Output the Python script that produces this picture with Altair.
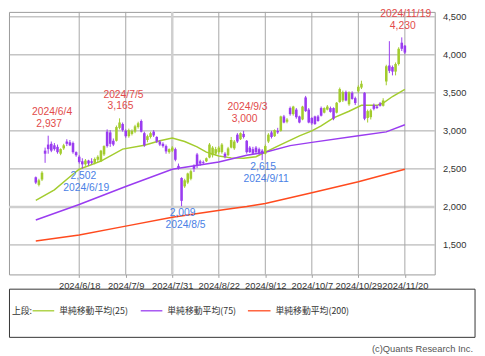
import altair as alt
import pandas as pd

# ---------------- data ----------------
dates = ["2024/5/29","2024/5/30","2024/5/31","2024/6/3","2024/6/4","2024/6/5","2024/6/6","2024/6/7","2024/6/10","2024/6/11",
         "2024/6/12","2024/6/13","2024/6/14","2024/6/17","2024/6/18","2024/6/19","2024/6/20","2024/6/21","2024/6/24","2024/6/25",
         "2024/6/26","2024/6/27","2024/6/28","2024/7/1","2024/7/2","2024/7/3","2024/7/4","2024/7/5","2024/7/8","2024/7/9",
         "2024/7/10","2024/7/11","2024/7/12","2024/7/16","2024/7/17","2024/7/18","2024/7/19","2024/7/22","2024/7/23","2024/7/24",
         "2024/7/25","2024/7/26","2024/7/29","2024/7/30","2024/7/31","2024/8/1","2024/8/2","2024/8/5","2024/8/6","2024/8/7",
         "2024/8/8","2024/8/9","2024/8/13","2024/8/14","2024/8/15","2024/8/16","2024/8/19","2024/8/20","2024/8/21","2024/8/22",
         "2024/8/23","2024/8/26","2024/8/27","2024/8/28","2024/8/29","2024/8/30","2024/9/2","2024/9/3","2024/9/4","2024/9/5",
         "2024/9/6","2024/9/9","2024/9/10","2024/9/11","2024/9/12","2024/9/13","2024/9/17","2024/9/18","2024/9/19","2024/9/20",
         "2024/9/24","2024/9/25","2024/9/26","2024/9/27","2024/9/30","2024/10/1","2024/10/2","2024/10/3","2024/10/4","2024/10/7",
         "2024/10/8","2024/10/9","2024/10/10","2024/10/11","2024/10/15","2024/10/16","2024/10/17","2024/10/18","2024/10/21","2024/10/22",
         "2024/10/23","2024/10/24","2024/10/25","2024/10/28","2024/10/29","2024/10/30","2024/10/31","2024/11/1","2024/11/5","2024/11/6",
         "2024/11/7","2024/11/8","2024/11/11","2024/11/12","2024/11/13","2024/11/14","2024/11/15","2024/11/18","2024/11/19","2024/11/20"]

opens  = [2390,2290,2360,2740,2820,2830,2810,2790,2700,2770, 2860,2850,2840,2720,2660,2600,2560,2610,2600,2580,
          2620,2600,2690,2990,2980,2870,2870,3040,3090,3000, 2930,2960,2990,3050,3130,2970,2880,2920,2990,2920,
          2860,2830,2800,2720,2740,2760,2540,2380,2270,2320, 2370,2540,2690,2600,2590,2600,2650,2680,2700,2720,
          2720,2700,2680,2780,2770,2950,2890,2960,2870,2780, 2760,2780,2760,2740,2700,2860,2980,2930,3000,3000,
          3190,3120,3300,3220,3280,3190,3150,3440,3280,3170, 3190,3190,3300,3240,3280,3300,3300,3240,3380,3400,
          3510,3350,3500,3430,3520,3570,3500,3170,3180,3340, 3320,3360,3330,3650,3860,3840,3780,3880,4160,4120]
highs  = [2400,2370,2470,2780,2937,2860,2840,2820,2770,2830, 2890,2880,2860,2730,2680,2640,2630,2620,2640,2650,
          2680,2750,2810,3020,3010,2900,3070,3165,3110,3020, 3030,3020,3080,3120,3150,2990,2950,2990,3010,2930,
          2880,2850,2820,2770,2800,2780,2570,2390,2370,2450, 2490,2560,2710,2620,2610,2650,2840,2800,2790,2800,
          2840,2720,2790,2920,2880,2970,2980,3000,2880,2800, 2790,2800,2780,2760,2820,2970,3000,3020,3040,3200,
          3210,3170,3320,3330,3300,3200,3330,3460,3300,3180, 3200,3210,3320,3310,3340,3320,3310,3380,3570,3530,
          3530,3520,3520,3450,3600,3660,3510,3280,3290,3360, 3340,3380,3430,3870,4180,3860,3900,4100,4230,4130]
lows   = [2300,2270,2340,2580,2700,2720,2740,2700,2680,2750, 2800,2800,2700,2660,2570,2502,2540,2540,2560,2560,
          2590,2590,2670,2780,2790,2800,2860,3020,2990,2910, 2910,2940,2970,3030,2980,2790,2850,2900,2920,2840,
          2800,2780,2700,2700,2720,2600,2490,2009,2250,2300, 2350,2460,2510,2540,2560,2590,2640,2650,2680,2700,
          2700,2640,2670,2770,2750,2840,2880,2900,2700,2710, 2690,2700,2680,2615,2690,2840,2900,2920,2960,2990,
          3100,3100,3200,3200,3160,3100,3140,3250,3100,3080, 3080,3120,3190,3230,3270,3240,3140,3230,3370,3380,
          3390,3330,3410,3340,3500,3550,3140,3110,3150,3270, 3290,3320,3320,3600,3760,3730,3730,3860,4050,4010]
closes = [2320,2350,2450,2700,2760,2740,2760,2720,2760,2810, 2830,2810,2720,2680,2590,2560,2610,2570,2580,2630,
          2660,2740,2800,2800,2830,2820,3050,3110,3010,2930, 3010,3000,3060,3100,2990,2810,2930,2970,2940,2860,
          2820,2800,2730,2760,2780,2620,2510,2080,2350,2440, 2470,2500,2540,2570,2580,2640,2820,2780,2760,2780,
          2820,2660,2770,2880,2860,2860,2970,2920,2720,2720, 2700,2720,2700,2700,2800,2950,2920,3010,2980,3190,
          3110,3150,3220,3320,3180,3110,3320,3260,3110,3100, 3090,3130,3200,3300,3320,3250,3160,3370,3550,3510,
          3400,3510,3420,3366,3580,3620,3160,3260,3270,3290, 3300,3330,3400,3850,3790,3780,3880,4080,4080,4030]

# moving averages (trading-day position, value)
ma25_pos  = [0, 6, 11, 14, 21, 28, 35, 40, 44, 48, 52, 55, 59, 63, 67, 71, 75, 78, 85, 89, 92, 96, 101, 105, 110, 112, 115, 119]
ma25_val  = [2087, 2225, 2397, 2496, 2603, 2760, 2810, 2870, 2905, 2860, 2790, 2720, 2670, 2645, 2640, 2660, 2740, 2800,
             2935, 3000, 3065, 3172, 3258, 3336, 3336, 3366, 3452, 3547]
ma75_pos  = [0, 14, 29, 44, 59, 68, 74, 82, 89, 104, 113, 119]
ma75_val  = [1828, 2031, 2268, 2496, 2590, 2680, 2720, 2806, 2849, 2935, 2987, 3080]
ma200_pos = [0, 14, 29, 44, 61, 68, 74, 89, 104, 119]
ma200_val = [1553, 1630, 1747, 1863, 1966, 2005, 2044, 2186, 2332, 2496]

tick_dates = ["2024/6/18", "2024/7/9", "2024/7/31", "2024/8/22", "2024/9/12", "2024/10/7", "2024/10/29", "2024/11/20"]
price_ticks = [1500, 2000, 2500, 3000, 3500, 4000, 4500]

hi_dates = ["2024/6/4", "2024/7/5", "2024/9/3", "2024/11/19"]
hi_vals  = [2937, 3165, 3000, 4230]
lo_dates = ["2024/6/19", "2024/8/5", "2024/9/11"]
lo_vals  = [2502, 2009, 2615]

legend_names  = ["単純移動平均(25)", "単純移動平均(75)", "単純移動平均(200)"]
legend_colors = ["#a3cc2e", "#9a3cf0", "#ff4a1e"]

# ---------------- tables ----------------
candles = pd.DataFrame({"pos": range(len(dates)), "date": dates,
                        "open": opens, "high": highs, "low": lows, "close": closes})
candles["dir"] = ["up" if c >= o else "down" for o, c in zip(opens, closes)]

tick_pos = [dates.index(d) for d in tick_dates]
label_expr = " : ".join(f"datum.value == {p} ? '{d}'" for p, d in zip(tick_pos, tick_dates)) + " : ''"

ma = pd.concat([
    pd.DataFrame({"pos": ma25_pos, "v": ma25_val, "s": legend_names[0]}),
    pd.DataFrame({"pos": ma75_pos, "v": ma75_val, "s": legend_names[1]}),
    pd.DataFrame({"pos": ma200_pos, "v": ma200_val, "s": legend_names[2]}),
])

hi = pd.DataFrame({"pos": [dates.index(d) for d in hi_dates], "date": hi_dates,
                   "v": hi_vals, "lab": [f"{v:,}" for v in hi_vals]})
lo = pd.DataFrame({"pos": [dates.index(d) for d in lo_dates], "date": lo_dates,
                   "v": lo_vals, "lab": [f"{v:,}" for v in lo_vals]})

# ---------------- geometry ----------------
W, H = 433, 267
xs = alt.Scale(domain=[-7.06, 127.04], nice=False, zero=False)
ys = alt.Scale(domain=[1112, 4565], nice=False, zero=False)

NUM_FONT = "Liberation Sans"
JP_FONT = "Noto Sans CJK JP"

xaxis = alt.Axis(values=tick_pos, labelExpr=label_expr, title=None, grid=False, domain=False,
                 ticks=True, tickSize=3, tickColor="#a0a0a0", labelPadding=3,
                 labelFont=NUM_FONT, labelFontSize=9.5, labelColor="#333333", labelOverlap=False)
yaxis = alt.Axis(values=price_ticks, labelExpr="format(datum.value, ',.0f')", orient="right", title=None,
                 grid=False, domain=False, ticks=False, labelPadding=8,
                 labelFont=NUM_FONT, labelFontSize=9.5, labelColor="#333333")

def X(field):
    return alt.X(field, type="quantitative", scale=xs, axis=xaxis)

def Y(field):
    return alt.Y(field, type="quantitative", scale=ys, axis=yaxis)

dir_color = alt.Color("dir:N", scale=alt.Scale(domain=["up", "down"], range=["#f02a4e", "#1e3d9a"]), legend=None)

# gridlines
vgrid_df = pd.DataFrame({"pos": tick_pos})
hgrid_df = pd.DataFrame({"v": price_ticks})
vgrid = alt.Chart(vgrid_df).mark_rule().encode(
    x=X("pos"), y=alt.value(0), y2=alt.value(H),
    size=alt.condition("datum.pos == 44", alt.value(2.5), alt.value(1)),
    color=alt.condition("datum.pos == 44", alt.value("#cfcfcf"), alt.value("#a6a6a6")))
hgrid = alt.Chart(hgrid_df).mark_rule().encode(
    y=Y("v"), x=alt.value(0), x2=alt.value(W),
    size=alt.condition("datum.v == 2000", alt.value(2.5), alt.value(1)),
    color=alt.condition("datum.v == 2000", alt.value("#cfcfcf"), alt.value("#a6a6a6")))

# moving averages
ma_lines = alt.Chart(ma).mark_line(strokeWidth=1.5).encode(
    x=X("pos"), y=Y("v"),
    color=alt.Color("s:N", scale=alt.Scale(domain=legend_names, range=legend_colors), legend=None),
    detail="s:N")

# candles
base = alt.Chart(candles)
wicks = base.mark_rule(strokeWidth=1).encode(x=X("pos"), y=Y("low"), y2="high", color=dir_color)
bodies = base.mark_bar(size=2.6).encode(x=X("pos"), y=Y("open"), y2="close", color=dir_color)

# annotations
RED_T, BLUE_T = "#e24a4a", "#4a7fe6"
AFS = 10.5
hi_date = alt.Chart(hi).mark_text(font=NUM_FONT, fontSize=AFS, color=RED_T, dy=-24, dx=4, baseline="middle").encode(
    x=X("pos"), y=Y("v"), text="date:N")
hi_val = alt.Chart(hi).mark_text(font=NUM_FONT, fontSize=AFS, color=RED_T, dy=-12, dx=1, baseline="middle").encode(
    x=X("pos"), y=Y("v"), text="lab:N")
lo_val = alt.Chart(lo).mark_text(font=NUM_FONT, fontSize=AFS, color=BLUE_T, dy=7, dx=1, baseline="middle").encode(
    x=X("pos"), y=Y("v"), text="lab:N")
lo_date = alt.Chart(lo).mark_text(font=NUM_FONT, fontSize=AFS, color=BLUE_T, dy=19.5, dx=4, baseline="middle").encode(
    x=X("pos"), y=Y("v"), text="date:N")

# legend box below the plot (pixel positions)
leg_df = pd.DataFrame({"name": legend_names, "color": legend_colors,
                       "x0": [24, 134, 243], "x1": [46, 156, 266], "tx": [51, 161, 271]})
box = alt.Chart(pd.DataFrame({"a": [0]})).mark_rect(fill="white", stroke="#333333", strokeWidth=1).encode(
    x=alt.value(0.5), x2=alt.value(474), y=alt.value(282), y2=alt.value(331))
leg_title = alt.Chart(pd.DataFrame({"t": ["上段:"]})).mark_text(
    font=JP_FONT, fontSize=9, color="#333333", align="left", baseline="middle").encode(
    x=alt.value(3), y=alt.value(304), text="t:N")
leg_lines = alt.Chart(leg_df).mark_rule(strokeWidth=1.3).encode(
    x=alt.X("x0:Q", scale=None), x2="x1:Q", y=alt.value(304),
    color=alt.Color("color:N", scale=None))
leg_text = alt.Chart(leg_df).mark_text(font=JP_FONT, fontSize=9, color="#333333", align="left",
                                        baseline="middle").encode(
    x=alt.X("tx:Q", scale=None), y=alt.value(304), text="name:N")
credit = alt.Chart(pd.DataFrame({"t": ["(c)Quants Research Inc."]})).mark_text(
    font=NUM_FONT, fontSize=9.5, color="#555555", align="right", baseline="middle").encode(
    x=alt.value(472), y=alt.value(343), text="t:N")

chart = alt.layer(
    hgrid, vgrid, ma_lines, wicks, bodies, hi_date, hi_val, lo_val, lo_date,
    box, leg_title, leg_lines, leg_text, credit
).properties(
    width=W, height=H,
    autosize=alt.AutoSizeParams(type="none"),
    padding={"left": 1, "top": 1, "right": 43, "bottom": 80},
    background="white",
).configure_view(stroke="#9a9a9a", strokeWidth=1)

chart.save("out.html", embed_options={"renderer": "svg", "actions": False})
